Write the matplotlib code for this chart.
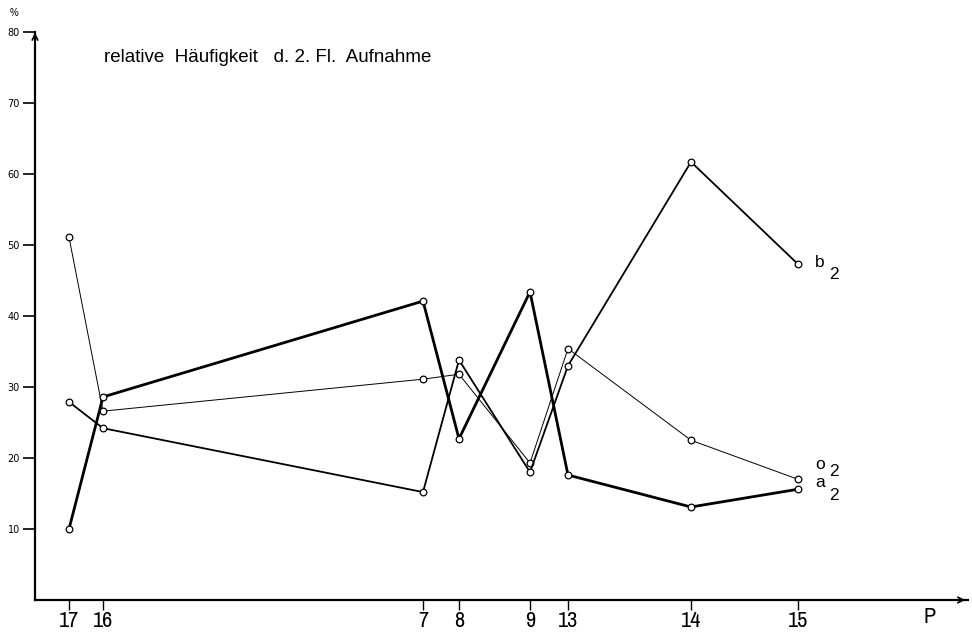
import matplotlib
matplotlib.use("Agg")
import matplotlib.pyplot as plt
from matplotlib import font_manager

# ---- data ----
stations = ["17", "16", "7", "8", "9", "13", "14", "15"]
# distance along the profile (arbitrary units as drawn)
profile_pos = [3.4, 6.8, 38.8, 42.4, 49.5, 53.3, 65.6, 76.3]

o2 = [51.1, 26.6, 31.1, 31.8, 19.3, 35.4, 22.5, 17.0]
a2 = [10.0, 28.6, 42.1, 22.7, 43.4, 17.6, 13.1, 15.6]
b2 = [27.9, 24.2, 15.2, 33.8, 18.0, 33.0, 61.7, 47.3]

y_ticks = [10, 20, 30, 40, 50, 60, 70, 80]
title = "relative  Häufigkeit   d. 2. Fl.  Aufnahme"

# ---- fonts ----
plt.rcParams["font.family"] = ["Liberation Sans", "DejaVu Sans"]
cond = None
for f in font_manager.fontManager.ttflist:
    if ("Condensed" in f.name or "Narrow" in f.name):
        cond = f.name
        break
tick_font = dict(family=cond) if cond else dict(family="Liberation Sans")
tick_size = 16 if cond else 14

W, H = 972, 633
fig = plt.figure(figsize=(W / 100, H / 100), dpi=100)
x0_px, y0_px = 35, 600
x_end_px, y80_px = 968, 32
ax = fig.add_axes([x0_px / W, (H - y0_px) / H,
                   (x_end_px - x0_px) / W, (y0_px - y80_px) / H])
xmax = (x_end_px - x0_px) / 10.0
ax.set_xlim(0, xmax)
ax.set_ylim(0, 80)

for s in ["top", "right"]:
    ax.spines[s].set_visible(False)
for s in ["left", "bottom"]:
    ax.spines[s].set_linewidth(1.6)

ax.set_yticks(y_ticks)
ax.set_yticklabels([str(v) for v in y_ticks], fontsize=7, family="DejaVu Sans")
ax.tick_params(axis="y", direction="out", length=9, width=1.2, pad=2)
ax.set_xticks(profile_pos)
ax.set_xticklabels(stations, fontsize=tick_size, **tick_font)
ax.tick_params(axis="x", direction="out", length=7, width=1.0, pad=1)

# arrows at axis ends
ax.annotate("", xy=(xmax, 0), xytext=(xmax - 1.5, 0),
            arrowprops=dict(arrowstyle="->", lw=1.2, color="black"),
            annotation_clip=False)
ax.annotate("", xy=(0, 80.3), xytext=(0, 78),
            arrowprops=dict(arrowstyle="->", lw=1.2, color="black"),
            annotation_clip=False)

mk = dict(marker="o", markersize=4.8, markerfacecolor="white",
          markeredgecolor="black", markeredgewidth=0.9, color="black", zorder=3)
ax.plot(profile_pos, o2, lw=0.7, **mk)
ax.plot(profile_pos, b2, lw=1.3, **mk)
ax.plot(profile_pos, a2, lw=2.0, **mk)

# series labels (letter + lowered "2")
def lab(letter, y_letter, y_sub):
    ax.text(78.0, y_letter, letter, fontsize=12.5, ha="left", va="center")
    ax.text(79.4, y_sub, "2", fontsize=12.5, ha="left", va="center")

lab("b", 47.6, 45.8)
lab("o", 19.1, 18.1)
lab("a", 16.5, 14.7)

fig.text(104 / W, 1 - 57 / H, title, fontsize=13.5, ha="left", va="center")
fig.text(10 / W, 1 - 13 / H, "%", fontsize=7, ha="left", va="center")
fig.text(930 / W, 1 - 617 / H, "P", fontsize=tick_size, ha="center", va="center", **tick_font)

fig.savefig("out.png", dpi=100)
